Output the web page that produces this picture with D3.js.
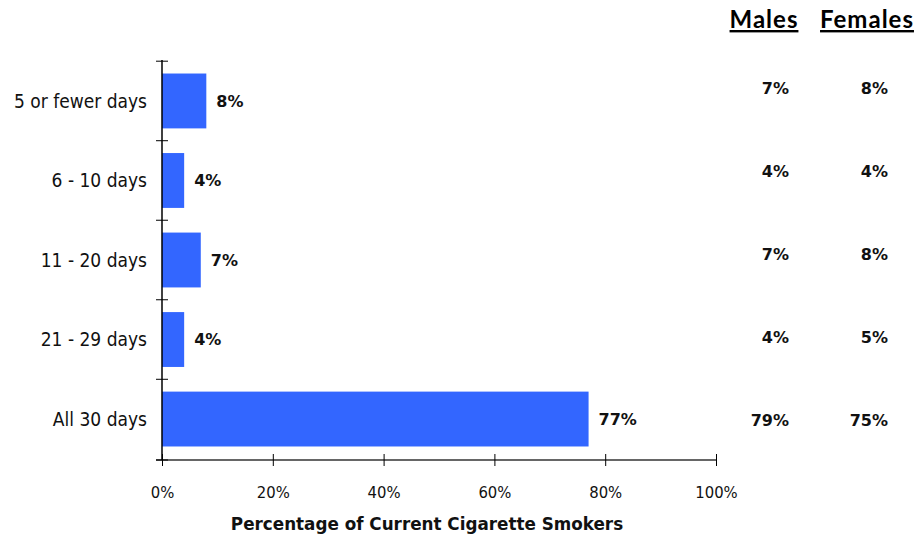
<!DOCTYPE html>
<html>
<head>
<meta charset="utf-8">
<script src="https://cdn.jsdelivr.net/npm/d3@7"></script>
<style>
	body { margin: 0; background: #fff; }
	.cat { font-family: "DejaVu Sans Condensed", "DejaVu Sans", sans-serif; font-stretch: condensed; font-size: 19px; fill: #111; }
	.tick text { font-family: "DejaVu Sans Condensed", "DejaVu Sans", sans-serif; font-stretch: condensed; font-size: 16.5px; fill: #111; }
	.val { font-family: "DejaVu Sans", sans-serif; font-weight: bold; font-size: 16px; fill: #111; }
	.title { font-family: "DejaVu Sans", sans-serif; font-weight: bold; font-size: 16.8px; fill: #111; }
	.head { font-family: Lato, sans-serif; font-weight: bold; font-size: 24px; letter-spacing: 1px; text-decoration: underline; }
</style>
</head>
<body>
<svg id="chart"></svg>
<script>
let categories = ["5 or fewer days", "6 - 10 days", "11 - 20 days", "21 - 29 days", "All 30 days"];
let totals = [8, 4, 7, 4, 77];
let males = [7, 4, 7, 4, 79];
let females = [8, 4, 8, 5, 75];
let xTicks = [0, 20, 40, 60, 80, 100];

let w = 919;
let h = 540;
let marginL = 162;
let marginR = 203;
let marginT = 60;
let marginB = 80;

let chart = d3.select('#chart')
	.attr('width', w)
	.attr('height', h);

let xScale = d3.scaleLinear()
	.domain([0, 100])
	.range([marginL, w - marginR]);

let yScale = d3.scaleBand()
	.domain(categories)
	.range([marginT, h - marginB])
	.paddingInner(0.31)
	.paddingOuter(0.17);

// table rows sit a little above the bars
let rowScale = d3.scalePoint()
	.domain(categories)
	.range([88, 420]);

// bars
chart.append('g')
	.selectAll('rect')
	.data(totals)
	.enter()
	.append('rect')
	.attr('x', xScale(0))
	.attr('y', (d, i) => yScale(categories[i]))
	.attr('width', d => xScale(d) - xScale(0))
	.attr('height', yScale.bandwidth())
	.attr('fill', '#3366FF');

// bar labels
chart.append('g')
	.selectAll('text')
	.data(totals)
	.enter()
	.append('text')
	.attr('class', 'val')
	.attr('x', d => xScale(d) + 10)
	.attr('y', (d, i) => yScale(categories[i]) + yScale.bandwidth() / 2)
	.attr('dy', '0.35em')
	.text(d => d + '%');

// x axis
let xAxis = d3.axisBottom(xScale)
	.tickValues(xTicks)
	.tickFormat(d => d + '%')
	.tickSize(6)
	.tickPadding(20)
	.tickSizeOuter(0);

let gx = chart.append('g')
	.attr('transform', `translate(0, ${h - marginB})`)
	.call(xAxis);
gx.select('.domain').attr('stroke', '#666').attr('stroke-width', 2)
	.attr('d', `M${xScale(0) - 6},0H${xScale(100)}`);
gx.selectAll('.tick line').attr('y1', -6).attr('y2', 6).attr('stroke', '#000');

// y axis: ticks between categories
let yEdges = categories.map(c => yScale(c) - yScale.step() * yScale.paddingInner() / 2);
yEdges.push(h - marginB);

chart.append('line')
	.attr('x1', xScale(0)).attr('x2', xScale(0))
	.attr('y1', marginT).attr('y2', h - marginB)
	.attr('stroke', '#000').attr('stroke-width', 1.5);

chart.append('g')
	.selectAll('line')
	.data(yEdges)
	.enter()
	.append('line')
	.attr('x1', xScale(0) - 6).attr('x2', xScale(0) + 6)
	.attr('y1', d => d).attr('y2', d => d)
	.attr('stroke', '#000');

// category labels
chart.append('g')
	.selectAll('text')
	.data(categories)
	.enter()
	.append('text')
	.attr('class', 'cat')
	.attr('x', xScale(0) - 15)
	.attr('y', d => yScale(d) + yScale.bandwidth() / 2)
	.attr('dy', '0.35em')
	.attr('text-anchor', 'end')
	.text(d => d);

// axis title
chart.append('text')
	.attr('class', 'title')
	.attr('x', (xScale(0) + xScale(100)) / 2 - 12)
	.attr('y', h - 10)
	.attr('text-anchor', 'middle')
	.text('Percentage of Current Cigarette Smokers');

// males / females table
let cols = [
	{ name: 'Males', x: 764, right: 789, values: males },
	{ name: 'Females', x: 867, right: 888, values: females }
];

cols.forEach(col => {
	chart.append('text')
		.attr('class', 'head')
		.attr('x', col.x)
		.attr('y', 28)
		.attr('text-anchor', 'middle')
		.text(col.name);

	chart.append('g')
		.selectAll('text')
		.data(col.values)
		.enter()
		.append('text')
		.attr('class', 'val')
		.attr('x', col.right)
		.attr('y', (d, i) => rowScale(categories[i]))
		.attr('dy', '0.35em')
		.attr('text-anchor', 'end')
		.text(d => d + '%');
});
</script>
</body>
</html>
